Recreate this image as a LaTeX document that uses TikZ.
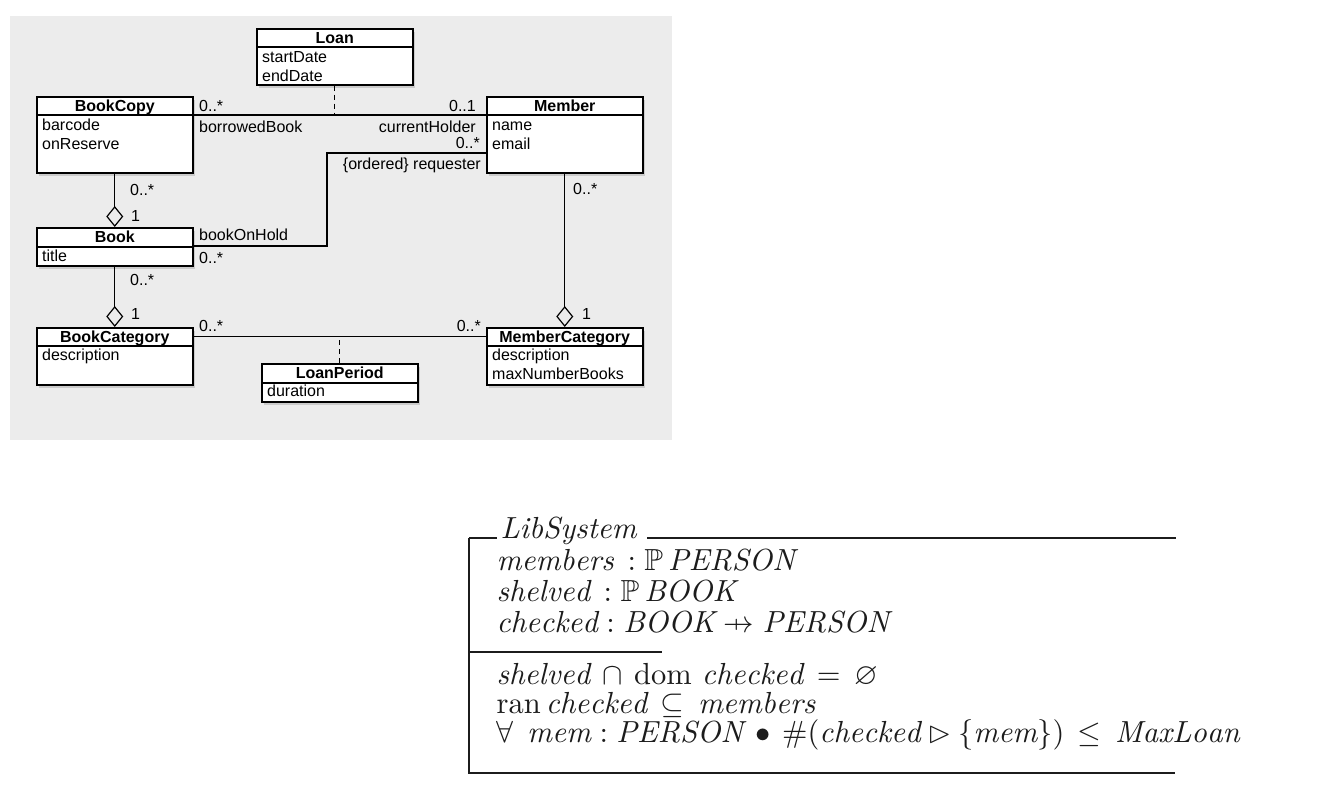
\documentclass[tikz,border=0pt]{standalone}
\usepackage{amsmath}
\usepackage{amssymb}
\usepackage{fontspec}
\usetikzlibrary{arrows.meta,shadows,calc}
\newfontfamily\umlfont{Liberation Sans}
\newcommand{\zpfun}{\mathrel{\ooalign{\hfil$\mapstochar\mkern5mu$\hfil\cr$\to$\cr}}}
\definecolor{bggray}{RGB}{236,236,236}
\definecolor{zink}{RGB}{28,28,28}
\begin{document}
\begin{tikzpicture}[x=1pt,y=-1pt,
  cls/.style={draw, line width=1.5pt, fill=white, anchor=north west, minimum width=156pt, inner sep=0pt,
    drop shadow={shadow xshift=2.5pt, shadow yshift=-3pt, opacity=0.3}},
  hdr/.style={line width=1.4pt},
  title/.style={font=\umlfont\bfseries\fontsize{16}{18}\selectfont, anchor=base, inner sep=0pt},
  attr/.style={font=\umlfont\fontsize{16}{18}\selectfont, anchor=base west, inner sep=0pt},
  lbl/.style={font=\umlfont\fontsize{16}{18}\selectfont, inner sep=0pt},
  assoc/.style={line width=1.2pt},
  dep/.style={line width=1.2pt, dash pattern=on 5pt off 4pt},
  agg/.style={line width=1.2pt, -{Diamond[open, length=21pt, width=17pt, line width=1.2pt]}},
  zline/.style={line width=1.8pt, draw=zink},
  ztext/.style={anchor=base west, inner sep=0pt, scale=3.05, text=zink}
]
\useasboundingbox[fill=white] (0,0) rectangle (1324,804);
\fill[bggray] (10,16) rectangle (672,440);

% classes
\node[cls, minimum height=56pt] (loan) at (256,28) {};
\node[cls, minimum height=76pt] (bookcopy) at (36,96) {};
\node[cls, minimum height=76pt] (member) at (486,96) {};
\node[cls, minimum height=38pt] (book) at (36,227) {};
\node[cls, minimum height=57pt] (bookcat) at (36,327) {};
\node[cls, minimum height=38pt] (loanperiod) at (261,363) {};
\node[cls, minimum height=57pt] (membercat) at (486,327) {};

\foreach \c/\h in {loan/19, bookcopy/19, member/19, book/20, bookcat/19, loanperiod/20, membercat/19}{
  \draw[hdr] ($(\c.north west)+(0,\h)$) -- ($(\c.north east)+(0,\h)$);
}

\node[title] (loanT) at ($(loan.north)+(0,15)$) {Loan};
\node[attr] (loanA1) at ($(loan.north west)+(6,34)$) {startDate};
\node[attr] (loanA2) at ($(loan.north west)+(6,53)$) {endDate};

\node[title] (bookcopyT) at ($(bookcopy.north)+(0,15)$) {BookCopy};
\node[attr] (bookcopyA1) at ($(bookcopy.north west)+(6,34)$) {barcode};
\node[attr] (bookcopyA2) at ($(bookcopy.north west)+(6,53)$) {onReserve};

\node[title] (memberT) at ($(member.north)+(0,15)$) {Member};
\node[attr] (memberA1) at ($(member.north west)+(6,34)$) {name};
\node[attr] (memberA2) at ($(member.north west)+(6,53)$) {email};

\node[title] (bookT) at ($(book.north)+(0,15)$) {Book};
\node[attr] (bookA1) at ($(book.north west)+(6,34)$) {title};

\node[title] (bookcatT) at ($(bookcat.north)+(0,15)$) {BookCategory};
\node[attr] (bookcatA1) at ($(bookcat.north west)+(6,33)$) {description};

\node[title] (loanperiodT) at ($(loanperiod.north)+(0,15)$) {LoanPeriod};
\node[attr] (loanperiodA1) at ($(loanperiod.north west)+(6,33)$) {duration};

\node[title] (membercatT) at ($(membercat.north)+(0,15)$) {MemberCategory};
\node[attr] (membercatA1) at ($(membercat.north west)+(6,33)$) {description};
\node[attr] (membercatA2) at ($(membercat.north west)+(6,52)$) {maxNumberBooks};

% connectors
\coordinate (bcH) at ($(bookcopy.north east)+(0,19)$);
\coordinate (mbH) at ($(member.north west)+(0,19)$);
\draw[assoc] (bcH) -- (mbH);
\draw[dep] (loan.south) -- (loan.south |- bcH);
\coordinate (mbR) at ($(member.north west)+(0,57)$);
\coordinate (bkH) at ($(book.north east)+(0,19)$);
\draw[assoc] (mbR) -- ++(-159,0) |- (bkH);
\draw[agg] (bookcopy.south) -- (book.north);
\draw[agg] (book.south) -- (bookcat.north);
\draw[agg] (member.south) -- (membercat.north);
\coordinate (bctM) at ($(bookcat.north east)+(0,9.5)$);
\coordinate (mctM) at ($(membercat.north west)+(0,9.5)$);
\draw[assoc] (bctM) -- (mctM);
\draw[dep] (loanperiod.north) -- (loanperiod.north |- bctM);

% labels
\node[lbl, anchor=base west] (l1) at (199,111) {0..*};
\node[lbl, anchor=base west] (l2) at (199,132) {borrowedBook};
\node[lbl, anchor=base east] (l3) at (476,111) {0..1};
\node[lbl, anchor=base east] (l4) at (476,132) {currentHolder};
\node[lbl, anchor=base east] (l5) at (480,148) {0..*};
\node[lbl, anchor=base east] (l6) at (481,169) {\{ordered\} requester};
\node[lbl, anchor=base west] (l7) at (130,195) {0..*};
\node[lbl, anchor=base west] (l8) at (131,221) {1};
\node[lbl, anchor=base west] (l9) at (199,240) {bookOnHold};
\node[lbl, anchor=base west] (l10) at (199,263) {0..*};
\node[lbl, anchor=base west] (l11) at (130,285) {0..*};
\node[lbl, anchor=base west] (l12) at (131,319) {1};
\node[lbl, anchor=base west] (l13) at (199,331) {0..*};
\node[lbl, anchor=base east] (l14) at (481,331) {0..*};
\node[lbl, anchor=base west] (l15) at (573,194) {0..*};
\node[lbl, anchor=base west] (l16) at (582,319) {1};

% Z schema
\node[ztext] (zname) at (500,538) {$\mathit{LibSystem}$};
\draw[zline] (469,538) -- (497,538);
\draw[zline] (647,538) -- (1176,538);
\draw[zline] (469,538) -- (469,773) -- (1175,773);
\draw[zline] (469,652) -- (662,652);
\node[ztext] (z1) at (496,570) {$\smash[b]{\mathit{members}\, : \mathbb{P}\,\mathit{PERSON}}$};
\node[ztext] (z2) at (496,601) {$\smash[b]{\mathit{shelved}\, : \mathbb{P}\,\mathit{BOOK}}$};
\node[ztext] (z3) at (496,632) {$\smash[b]{\mathit{checked} : \mathit{BOOK} \zpfun \mathit{PERSON}}$};
\node[ztext] (z4) at (496,684) {$\smash[b]{\mathit{shelved} \mathbin{\,\cap\,} \operatorname{dom}\, \mathit{checked} \mathrel{\,=\,} \varnothing}$};
\node[ztext] (z5) at (496,713) {$\smash[b]{\operatorname{ran} \mathit{checked} \mathrel{\,\subseteq\,} \mathit{members}}$};
\node[ztext] (z6) at (496,742) {$\smash[b]{\forall\;\, \mathit{mem} : \mathit{PERSON} \mathbin{\,\bullet\,} \#(\mathit{checked} \rhd \{\mathit{mem}\}) \mathrel{\,\leq\,} \mathit{MaxLoan}}$};
\end{tikzpicture}
\end{document}
